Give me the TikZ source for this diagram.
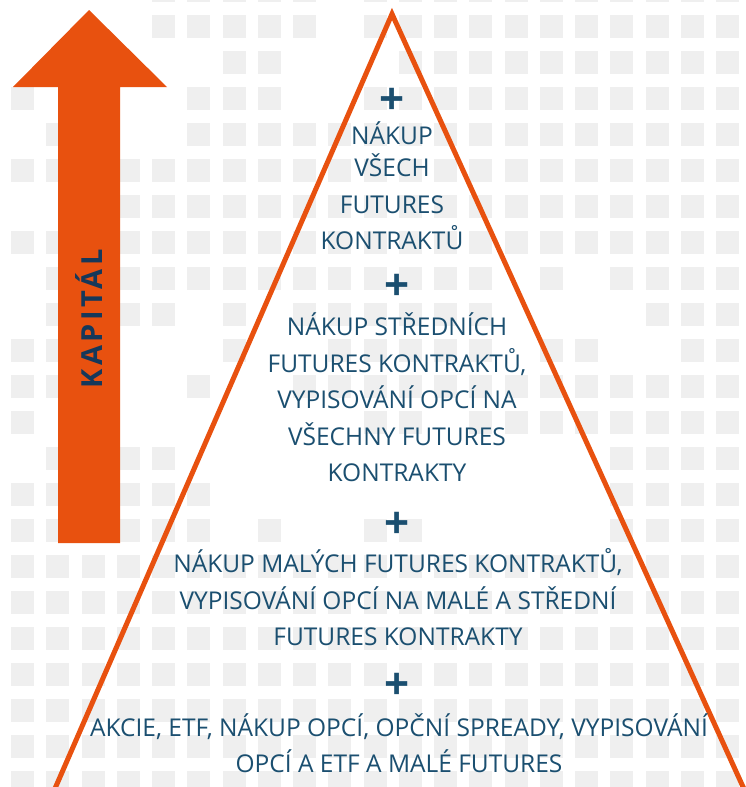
\documentclass[tikz,border=0pt]{standalone}
\usepackage{fontspec}
\setmainfont{Open Sans}
\newfontfamily\capfont[LetterSpace=12]{Open Sans}
\definecolor{caporange}{RGB}{232,81,15}
\definecolor{tilegray}{RGB}{239,239,239}
\definecolor{tiertext}{RGB}{27,79,112}
\definecolor{captext}{RGB}{22,56,90}
\begin{document}
\begin{tikzpicture}[x=1pt, y=-1pt,
    tile/.style={fill=tilegray},
    edge/.style={draw=caporange, line width=5pt},
    tier/.style={font=\fontsize{24.5}{36.5}\selectfont, text=tiertext, align=center, anchor=base, inner sep=0pt},
    plus/.style={font=\fontsize{44}{44}\selectfont\bfseries, text=tiertext, inner sep=0pt}]
    \useasboundingbox (0,0) rectangle (745,787);
    \fill[white] (0,0) rectangle (745,787);

    % background tiles, one row per line (1 = tile)
    \foreach \row [count=\r from -1] in {
        {0,0,0,0,1,1,1, 1,1,0,1,1,1,1, 1,1,1,1,1,1,1},
        {0,0,0,0,1,1,1, 1,1,0,1,1,1,1, 1,1,1,1,1,1,1},
        {0,0,0,0,0,0,1, 1,0,0,0,1,1,1, 1,1,1,1,1,1,1},
        {1,0,0,0,0,1,1, 1,0,0,1,1,1,1, 1,1,1,1,1,1,1},
        {0,1,0,0,0,1,1, 1,1,1,1,1,1,1, 1,1,1,1,1,1,1},
        {1,1,1,1,1,1,1, 1,1,1,1,1,1,1, 1,1,1,1,1,1,1},
        {0,0,0,1,1,1,1, 1,1,1,1,1,1,1, 1,1,1,1,1,1,1},
        {1,1,0,1,1,1,1, 1,1,1,1,1,1,1, 1,1,1,1,1,1,1},
        {0,1,1,1,1,1,1, 1,1,1,1,1,1,1, 0,1,0,1,1,1,1},
        {0,1,1,1,1,0,1, 0,1,1,1,1,1,1, 0,0,0,0,1,1,1},
        {1,1,1,0,0,0,1, 0,0,1,1,1,1,1, 0,1,1,0,0,1,1},
        {1,1,1,0,0,1,0, 0,1,1,1,1,1,1, 1,1,1,1,1,1,1},
        {1,0,0,0,0,0,0, 0,0,0,1,1,0,1, 1,1,1,1,1,1,1},
        {0,1,1,1,1,0,0, 0,0,0,0,0,0,0, 0,0,0,1,1,1,1},
        {1,1,1,1,1,1,0, 0,0,0,0,0,0,0, 0,0,0,1,1,1,1},
        {1,1,1,1,1,1,0, 1,0,0,1,1,0,0, 0,0,0,1,1,1,1},
        {1,1,1,1,1,1,1, 1,1,1,1,1,1,1, 1,1,1,1,1,1,1},
        {1,1,1,1,1,1,1, 1,1,1,1,1,1,1, 1,1,1,1,1,1,1},
        {1,1,1,1,1,1,1, 1,1,1,1,1,1,1, 1,1,1,1,1,1,1},
        {1,1,1,1,1,1,1, 1,1,1,1,1,1,1, 1,1,1,1,1,1,1},
        {1,1,1,1,1,1,1, 1,1,1,1,1,1,1, 1,1,1,1,1,1,1},
        {1,1,1,1,1,1,1, 1,1,1,1,1,1,1, 1,1,1,1,1,1,1},
        {1,1,1,1,1,1,1, 1,1,1,1,1,1,1, 1,1,1,1,1,1,1}}{
        \foreach \bit [count=\c from 0] in \row {
            \ifnum\bit=1 \fill[tile] ({11+35.25*\c},{15+36*\r}) rectangle ++(23,23); \fi
        }
    }

    % capital arrow
    \fill[caporange] (89,10) -- (167,87) -- (120,87) -- (120,543) -- (58,543) -- (58,87) -- (13,87) -- cycle;
    \node[rotate=90, inner sep=0pt, text=captext, font=\capfont\bfseries\fontsize{29}{29}\selectfont] (capital) at (89,319) {KAPITÁL};

    % pyramid
    \draw[edge] (50,800) -- (392,14) -- (749,800);

    \node[plus] (plus1) at (392,101) {+};
    \node[tier] (tier1) at (392,249.5) {NÁKUP\\[-4pt] VŠECH\\ FUTURES\\ KONTRAKTŮ};
    \node[plus] (plus2) at (397,287) {+};
    \node[tier] (tier2) at (397,481.5) {NÁKUP STŘEDNÍCH\\ FUTURES KONTRAKTŮ,\\ VYPISOVÁNÍ OPCÍ NA\\ VŠECHNY FUTURES\\ KONTRAKTY};
    \node[plus] (plus3) at (397.5,525) {+};
    \node[tier] (tier3) at (398,645.5) {NÁKUP MALÝCH FUTURES KONTRAKTŮ,\\ VYPISOVÁNÍ OPCÍ NA MALÉ A STŘEDNÍ\\ FUTURES KONTRAKTY};
    \node[plus] (plus4) at (397.5,686) {+};
    \node[tier] (tier4) at (399,772.5) {AKCIE, ETF, NÁKUP OPCÍ, OPČNÍ SPREADY, VYPISOVÁNÍ\\ OPCÍ A ETF A MALÉ FUTURES};
\end{tikzpicture}
\end{document}
